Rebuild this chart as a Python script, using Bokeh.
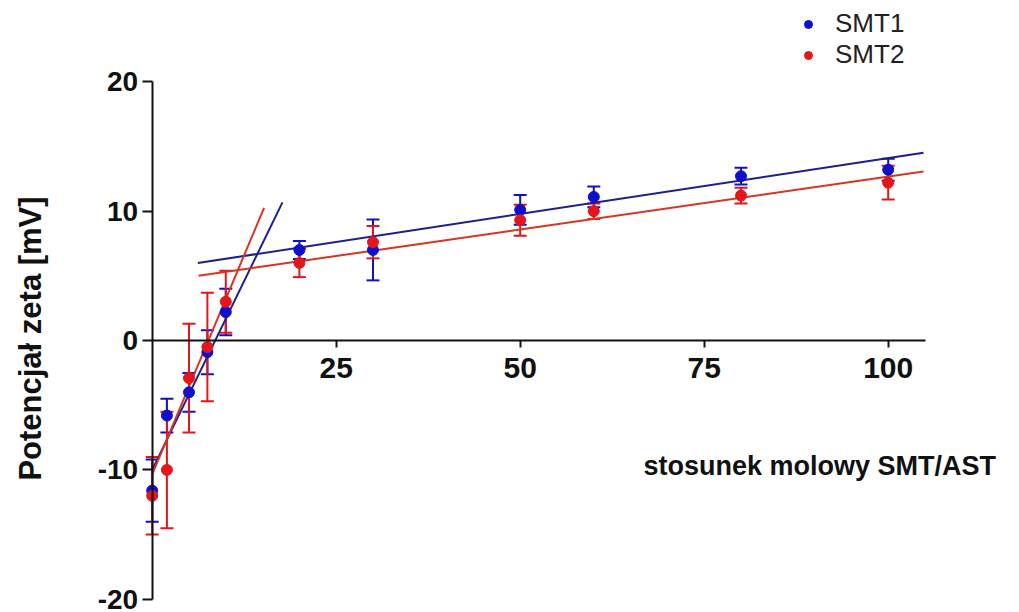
import numpy as np
from bokeh.plotting import figure
from bokeh.models import (Range1d, LinearAxis, FixedTicker, ColumnDataSource,
                          Whisker, TeeHead, Legend, LegendItem, Label)
from bokeh.embed import file_html
from bokeh.resources import INLINE

# ---- data ----
ratio = [0, 2, 5, 7.5, 10, 20, 30, 50, 60, 80, 100]
smt1_mean = [-11.6, -5.8, -4.0, -0.9, 2.2, 7.0, 7.0, 10.1, 11.1, 12.7, 13.2]
smt1_err = [2.4, 1.3, 1.5, 1.7, 1.8, 0.7, 2.35, 1.15, 0.8, 0.65, 0.85]
smt2_mean = [-12.0, -10.0, -2.9, -0.5, 3.0, 6.0, 7.6, 9.3, 10.0, 11.2, 12.2]
smt2_err = [3.0, 4.5, 4.2, 4.2, 2.4, 1.1, 1.25, 1.2, 0.6, 0.6, 1.3]

# linear fits: (intercept, slope, x_from, x_to)
smt1_fit_low = (-10.0, 1.168, 0.0, 17.7)
smt1_fit_high = (5.46, 0.0864, 6.2, 104.8)
smt2_fit_low = (-10.35, 1.356, 0.0, 15.2)
smt2_fit_high = (4.49, 0.0818, 6.3, 104.8)

x_ticks = [25, 50, 75, 100]
y_ticks = [-20, -10, 0, 10, 20]
series_names = ["SMT1", "SMT2"]

BLUE = "#1010cc"
BLUE_LINE = "#1e1e8e"
RED = "#e3161c"
RED_LINE = "#d9341f"
FONT = "Liberation Sans"

p = figure(width=1019, height=612, output_backend="svg", toolbar_location=None,
           x_axis_type=None, y_axis_type=None, min_border=0,
           x_range=Range1d(-20.61, 117.84), y_range=Range1d(-21.02, 26.28))
p.outline_line_color = None
p.background_fill_color = "white"
p.border_fill_color = "white"

# axes crossing at zero
yax = LinearAxis(fixed_location=0, ticker=FixedTicker(ticks=y_ticks), bounds=(-20, 20))
yax.major_label_overrides = {t: str(t) for t in y_ticks}
xax = LinearAxis(fixed_location=0, ticker=FixedTicker(ticks=x_ticks), bounds=(0, 105.1))
xax.major_label_overrides = {t: str(t) for t in x_ticks}
for ax in (xax, yax):
    ax.axis_line_width = 2
    ax.axis_line_color = "#111111"
    ax.major_tick_line_width = 2
    ax.major_tick_line_color = "#111111"
    ax.major_tick_in = 0
    ax.minor_tick_in = 0
    ax.minor_tick_out = 0
    ax.major_label_text_font = FONT
    ax.major_label_text_font_style = "bold"
    ax.major_label_text_color = "#111111"
yax.major_label_text_font_size = "28px"
xax.major_label_text_font_size = "30px"
yax.major_tick_out = 10
yax.major_label_standoff = 4
xax.major_tick_out = 7
xax.major_label_standoff = 10
p.add_layout(yax, "left")
p.add_layout(xax, "below")


def add_fit(fit, color):
    b, m, x0, x1 = fit
    xs = np.array([x0, x1])
    p.line(xs, b + m * xs, line_color=color, line_width=2)


add_fit(smt1_fit_low, BLUE_LINE)
add_fit(smt1_fit_high, BLUE_LINE)
add_fit(smt2_fit_low, RED_LINE)
add_fit(smt2_fit_high, RED_LINE)

renderers = []
for mean, err, col in ((smt1_mean, smt1_err, BLUE), (smt2_mean, smt2_err, RED)):
    mean = np.array(mean)
    err = np.array(err)
    src = ColumnDataSource(dict(x=ratio, y=mean, lo=mean - err, hi=mean + err))
    w = Whisker(source=src, base="x", lower="lo", upper="hi",
                line_color=col, line_width=2,
                upper_head=TeeHead(size=13, line_color=col, line_width=2),
                lower_head=TeeHead(size=13, line_color=col, line_width=2))
    p.add_layout(w)
    r = p.scatter("x", "y", source=src, size=11, fill_color=col, line_color=col)
    renderers.append(r)

legend = Legend(items=[LegendItem(label=n, renderers=[r]) for n, r in zip(series_names, renderers)],
                location=(798, 542), padding=0, margin=0, spacing=-2,
                glyph_width=20, glyph_height=20, label_standoff=17,
                label_text_font=FONT, label_text_font_size="26px",
                label_text_color="#222222",
                border_line_color=None, background_fill_alpha=0)
p.add_layout(legend)

p.add_layout(Label(x=30, y=612 - 338, x_units="screen", y_units="screen",
                   text="Potencjał zeta [mV]", angle=np.pi / 2,
                   text_align="center", text_baseline="middle",
                   text_font=FONT, text_font_style="bold", text_font_size="31px",
                   text_color="#111111"))
p.add_layout(Label(x=643, y=612 - 465, x_units="screen", y_units="screen",
                   text="stosunek molowy SMT/AST",
                   text_align="left", text_baseline="middle",
                   text_font=FONT, text_font_style="bold", text_font_size="27px",
                   text_color="#111111"))

open("out.html", "w").write(file_html(p, INLINE))
